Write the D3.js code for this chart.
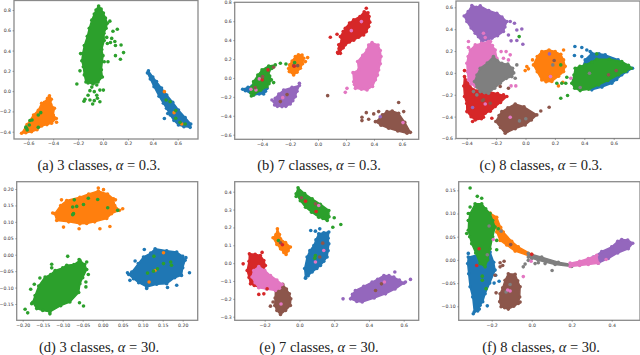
<!DOCTYPE html>
<html>
<head>
<meta charset="utf-8">
<script src="https://cdn.jsdelivr.net/npm/d3@7"></script>
<style>
  html, body { margin: 0; padding: 0; background: #fff; }
  svg { display: block; }
  .tick text { font-family: "DejaVu Sans", sans-serif; font-size: 4.6px; fill: #333; }
  .tick line { stroke: #555; stroke-width: 0.5; }
  .frame { fill: none; stroke: #8a8a8a; stroke-width: 1.3; }
  .caption { font-family: "Liberation Serif", serif; font-size: 14.5px; fill: #222; text-anchor: middle; }
</style>
</head>
<body>
<svg id="chart" width="640" height="355"></svg>
<script>
// tab10, index = class number used in the stray arrays
var classColors = ['#1f77b4', '#ff7f0e', '#2ca02c', '#d62728', '#9467bd', '#8c564b', '#e377c2', '#7f7f7f'];

// ---- (a) 3 classes, alpha 0.3
var aXTicks = [-0.6, -0.4, -0.2, 0, 0.2, 0.4, 0.6];
var aYTicks = [-0.4, -0.2, 0, 0.2, 0.4, 0.6, 0.8];
var aBlue = [[.365,.2],[.4,.14],[.43,.094],[.47,.03],[.512,-.038],[.56,-.11],[.606,-.186],[.66,-.26],[.705,-.324],[.7,-.357],[.65,-.35],[.606,-.334],[.57,-.29],[.54,-.235],[.51,-.17],[.485,-.12],[.45,-.05],[.41,.044],[.38,.12],[.357,.18]];
var aOrange = [[-.654,-.416],[-.61,-.33],[-.558,-.235],[-.52,-.19],[-.493,-.12],[-.47,-.11],[-.445,-.07],[-.43,-.045],[-.415,-.08],[-.42,-.13],[-.39,-.17],[-.4,-.235],[-.375,-.27],[-.413,-.317],[-.45,-.33],[-.493,-.344],[-.53,-.38],[-.574,-.4],[-.62,-.41]];
var aGreen = [[-.035,.84],[-.015,.81],[.003,.77],[.02,.72],[.035,.67],[.025,.62],[.008,.57],[.01,.5],[-.01,.41],[0,.35],[-.013,.21],[-.005,.14],[-.04,.09],[-.08,.07],[-.137,.09],[-.15,.16],[-.158,.24],[-.17,.3],[-.163,.37],[-.15,.45],[-.126,.54],[-.11,.62],[-.09,.7],[-.07,.76],[-.056,.8]];
var aStray = [[.493,-.27,0],[.52,-.22,0],[-.373,-.307,1],[-.386,-.268,1],[-.4,-.24,1],
  [-.21,.07,2],[-.18,.37,2],[-.185,.2,2],[.055,.69,2],[.115,.61,2],[.08,.59,2],[.03,.53,2],[.07,.52,2],[.095,.49,2],[.06,.48,2],[.145,.455,2],[.1,.45,2],[.165,.38,2],[.1,.35,2],[.14,.315,2],[.035,.47,2],[.01,.29,2],[.04,.29,2],[-.12,.08,2],[-.09,.04,2],[-.05,.06,2],[.003,.01,2],[-.025,.01,2],[-.05,-.04,2],[-.12,-.04,2],[-.145,-.08,2],[-.153,-.1,2],[-.105,-.087,2],[-.083,-.127,2],[-.045,-.07,2],[-.025,-.104,2],[-.07,-.094,2],[-.105,.005,2],[-.07,-.005,2],
  [-.587,-.29,2],[-.57,-.285,2],[-.592,-.334,2],[-.614,-.367,2],[-.62,-.355,2],[-.609,-.383,2],[-.52,-.357,2],[-.52,-.235,2],[-.5,-.212,2],
  [.493,-.005,1],[.571,-.212,1],[.633,-.324,1],
  [.507,-.087,2],[.539,-.104,2],[.584,-.192,2],[.584,-.268,2],[.619,-.308,2],[.66,-.324,2]];

// ---- (b) 7 classes, alpha 0.3
var bXTicks = [-0.4, -0.2, 0, 0.2, 0.4, 0.6];
var bYTicks = [-0.6, -0.4, -0.2, 0, 0.2, 0.4, 0.6, 0.8];
var bBlue = [[-.538,-.12],[-.5,-.1],[-.471,-.085],[-.42,-.1],[-.364,-.11],[-.375,-.14],[-.388,-.17],[-.42,-.17],[-.46,-.18],[-.519,-.134]];
var bOrange = [[-.114,.243],[-.102,.208],[-.11,.15],[-.126,.102],[-.15,.06],[-.174,.032],[-.205,.067],[-.21,.1],[-.202,.138],[-.185,.18],[-.162,.226],[-.14,.245]];
var bGreen = [[-.305,.138],[-.33,.1],[-.352,.067],[-.345,.02],[-.333,-.02],[-.35,-.06],[-.364,-.092],[-.41,-.13],[-.46,-.18],[-.48,-.16],[-.475,-.1],[-.46,-.039],[-.43,.03],[-.4,.085],[-.352,.127]];
var bRed = [[.33,.7],[.357,.69],[.365,.65],[.37,.59],[.362,.543],[.345,.49],[.326,.455],[.29,.43],[.255,.4],[.225,.38],[.195,.35],[.18,.32],[.16,.296],[.16,.26],[.143,.26],[.15,.31],[.148,.35],[.17,.39],[.16,.437],[.18,.49],[.195,.525],[.225,.58],[.255,.614],[.3,.65]];
var bPurple = [[-.133,-.08],[-.15,-.14],[-.162,-.197],[-.18,-.24],[-.198,-.275],[-.23,-.3],[-.257,-.303],[-.29,-.3],[-.31,-.286],[-.315,-.25],[-.305,-.215],[-.28,-.17],[-.245,-.127],[-.186,-.1]];
var bBrown = [[.493,-.356],[.53,-.35],[.576,-.374],[.62,-.47],[.66,-.575],[.636,-.585],[.57,-.56],[.505,-.532],[.45,-.5],[.41,-.462],[.445,-.427],[.46,-.39]];
var bPink = [[.386,.374],[.429,.349],[.445,.29],[.45,.226],[.445,.15],[.433,.085],[.425,.03],[.41,-.02],[.39,-.09],[.35,-.127],[.31,-.12],[.267,-.11],[.26,-.07],[.255,-.04],[.25,.056],[.29,.085],[.283,.173],[.32,.24],[.35,.296],[.362,.349]];
var bStray = [[.345,.737,3],[.088,.43,3],[.136,.462,3],[.148,.268,3],[.14,.27,3],[.171,.314,3],
  [.238,.5,6],[.31,.596,6],[.207,-.11,6],[.195,-.152,6],[.362,.32,6],
  [.069,-.187,5],[.576,-.26,5],[.345,-.367,5],[.398,-.38,5],[.314,-.416,5],[.314,-.451,5],[.362,-.437,5],[.433,-.356,5],[.612,-.356,5],
  [.607,-.472,6],[.445,-.41,4],
  [-.133,-.056,4],[-.329,-.233,4],[-.221,-.176,5],[-.269,-.25,5],[-.252,-.208,6],
  [-.074,.215,1],[-.09,.173,1],[-.174,.13,5],[-.145,.13,5],[-.167,.162,2],[-.17,.125,3],
  [-.269,.155,2],[-.229,.148,2],[-.317,-.049,2],[-.476,-.19,2],
  [-.479,-.12,6],[-.419,-.01,6],[-.443,-.127,6],[-.357,.085,3],[-.398,-.02,3],[-.317,.113,5],[-.448,-.102,5],[-.395,.014,5]];

// ---- (c) 8 classes, alpha 0.3
var cXTicks = [-0.4, -0.2, 0, 0.2, 0.4, 0.6];
var cYTicks = [-0.6, -0.4, -0.2, 0, 0.2, 0.4, 0.6];
var cBlue = [[.451,.18],[.5,.175],[.542,.165],[.63,.12],[.728,.043],[.69,.01],[.655,-.018],[.62,-.06],[.587,-.095],[.52,-.13],[.451,-.155],[.41,-.06],[.383,.027],[.406,.119]];
var cOrange = [[.111,.195],[.16,.21],[.202,.195],[.24,.17],[.259,.119],[.27,.06],[.259,.012],[.225,-.03],[.179,-.079],[.14,-.08],[.111,-.064],[.08,.01],[.054,.073],[.08,.15]];
var cGreen = [[.485,.125],[.57,.125],[.655,.104],[.7,.07],[.719,.043],[.68,.015],[.633,-.018],[.56,-.07],[.497,-.11],[.43,-.15],[.372,-.162],[.335,-.14],[.315,-.095],[.33,-.02],[.338,.043],[.37,.06],[.406,.073],[.45,.1]];
var cRed = [[-.415,-.034],[-.38,-.11],[-.354,-.155],[-.3,-.16],[-.252,-.171],[-.19,-.19],[-.127,-.216],[-.17,-.27],[-.206,-.308],[-.24,-.35],[-.274,-.369],[-.3,-.42],[-.342,-.43],[-.37,-.4],[-.399,-.354],[-.4,-.28],[-.415,-.216],[-.42,-.12]];
var cPurple = [[-.365,.616],[-.335,.6],[-.308,.613],[-.25,.57],[-.195,.546],[-.16,.51],[-.127,.47],[-.14,.42],[-.15,.378],[-.19,.34],[-.229,.317],[-.26,.3],[-.297,.287],[-.32,.33],[-.342,.363],[-.37,.41],[-.399,.47],[-.417,.521],[-.39,.56]];
var cBrown = [[-.07,-.284],[-.01,-.31],[.077,-.384],[.04,-.43],[-.002,-.476],[-.07,-.51],[-.138,-.552],[-.17,-.5],[-.202,-.445],[-.18,-.39],[-.161,-.354],[-.12,-.32]];
var cPink = [[-.342,.256],[-.3,.27],[-.252,.287],[-.225,.25],[-.206,.21],[-.195,.134],[-.24,.08],[-.297,.027],[-.32,-.05],[-.342,-.125],[-.37,-.1],[-.388,-.064],[-.395,.01],[-.399,.088],[-.39,.15],[-.376,.21]];
var cGray = [[-.218,.149],[-.19,.11],[-.161,.088],[-.12,.08],[-.088,.043],[-.08,0],[-.093,-.034],[-.13,-.05],[-.172,-.095],[-.21,-.14],[-.252,-.186],[-.28,-.18],[-.308,-.171],[-.33,-.13],[-.347,-.079],[-.33,-.02],[-.308,.043],[-.26,.09]];
var cStray = [[-.104,.47,4],[-.075,.454,4],[-.025,.402,4],[-.059,.393,4],[-.098,.293,4],[-.059,.296,4],[-.018,.262,4],[-.116,.346,4],
  [-.043,.332,2],[-.286,.363,6],[-.274,.323,6],[-.388,.287,6],[-.238,.287,6],
  [-.166,.195,6],[-.132,.195,6],[-.104,.165,6],[-.15,.134,6],[-.116,.119,6],[-.388,.232,6],[-.098,-.119,6],[-.066,-.119,6],
  [-.059,.073,7],[-.07,-.049,7],
  [-.415,.021,3],[-.229,-.415,3],[-.286,-.405,3],[-.36,-.445,3],[-.15,-.2,3],
  [.161,-.314,5],[.104,-.348,5],[-.172,-.125,5],[-.116,-.14,5],[-.286,-.247,5],[-.24,-.277,5],
  [-.104,-.405,6],[-.274,-.284,6],[-.041,-.439,7],[.002,-.42,7],[-.331,-.201,7],[-.354,-.171,7],[-.36,-.317,4],[-.293,-.253,5],
  [.009,.058,1],[.02,.037,1],[-.002,.021,1],[.048,.119,1],[.224,-.119,1],[.254,-.085,1],[.259,.21,1],
  [.163,.174,4],[.195,.113,5],[.186,.073,7],[.17,-.034,6],[.24,.073,2],
  [.336,.241,0],[.383,.232,0],[.417,.21,0],[.383,.149,0],[.333,.159,0],[.44,.195,0],
  [.24,-.232,2],[.286,-.207,2],[.274,-.095,2],[.247,-.095,2],[.213,-.095,2],[.281,-.04,2],[.485,.174,2],
  [.308,-.049,6],[.372,-.134,7],[.435,-.003,7],[.565,-.018,5],[.617,.021,5]];

// ---- (d) 3 classes, alpha 30
var dXTicks = [-0.2, -0.15, -0.1, -0.05, 0, 0.05, 0.1, 0.15, 0.2];
var dYTicks = [-0.15, -0.1, -0.05, 0, 0.05, 0.1, 0.15, 0.2];
var dBlue = [[.102,-.007],[.12,.005],[.131,.018],[.16,.012],[.185,.008],[.2,-.005],[.206,-.017],[.2,-.04],[.197,-.063],[.18,-.07],[.16,-.088],[.135,-.09],[.11,-.098],[.09,-.085],[.077,-.073],[.065,-.06],[.0725,-.053],[.089,-.027]];
var dOrange = [[-.12,.125],[-.105,.15],[-.09,.165],[-.057,.175],[-.035,.185],[-.011,.194],[.012,.185],[.027,.17],[.03,.15],[.042,.135],[.022,.125],[.01,.11],[-.02,.1],[-.04,.095],[-.057,.094],[-.085,.1],[-.115,.104]];
var dGreen = [[-.09,-.032],[-.072,-.03],[-.057,-.017],[-.045,-.03],[-.04,-.045],[-.05,-.07],[-.057,-.088],[-.06,-.115],[-.082,-.144],[-.105,-.155],[-.132,-.174],[-.15,-.17],[-.165,-.164],[-.175,-.145],[-.169,-.124],[-.16,-.095],[-.144,-.068],[-.13,-.06],[-.119,-.048],[-.1,-.04]];
var dStray = [[-.011,.203,1],[.002,.198,1],[-.098,.084,1],[-.059,.079,1],[-.007,.079,1],[.018,.086,1],[-.125,.127,1],[.05,.14,1],[-.103,.167,1],[.032,.167,1],
  [-.071,.167,2],[-.036,.172,2],[-.0125,.168,2],[-.075,.145,2],[-.065,.147,2],[-.048,.153,2],[-.073,.125,2],[-.075,.122,2],[.0125,.143,2],[.0375,.135,2],
  [.104,.016,0],[.081,-.019,0],[.062,-.055,0],[.217,-.055,0],[.162,-.1,0],[.11,-.103,0],[.208,-.009,0],[.068,-.078,0],[.185,-.093,0],
  [.152,.006,1],[.131,-.048,1],[.116,-.083,1],
  [.128,-.005,2],[.152,-.027,2],[.17,-.022,2],[.172,-.032,2],[.137,-.043,2],[.127,-.05,2],[.112,-.056,2],
  [-.0875,-.005,2],[-.059,-.015,2],[-.04,-.022,2],[-.036,-.06,2],[-.042,-.098,2],[-.042,-.083,2],[-.058,-.146,2],[-.048,-.156,2],[-.194,-.166,2],[-.1875,-.177,2],[-.1775,-.149,2],[-.171,-.09,2],[-.18,-.105,2],[-.132,-.18,2],[-.1275,-.029,2],[-.1275,-.04,2],[-.157,-.071,2]];

// ---- (e) 7 classes, alpha 30
var eXTicks = [-0.2, 0, 0.2, 0.4, 0.6];
var eYTicks = [-0.3, -0.2, -0.1, 0, 0.1, 0.2, 0.3, 0.4];
var eBlue = [[.111,.164],[.14,.17],[.169,.174],[.165,.14],[.169,.108],[.165,.07],[.159,.034],[.14,.01],[.121,-.013],[.1,-.03],[.073,-.05],[.05,-.07],[.035,-.082],[.03,-.03],[.044,.034],[.06,.07],[.083,.099],[.095,.13]];
var eOrange = [[-.127,.192],[-.115,.16],[-.109,.136],[-.08,.115],[-.052,.09],[-.065,.07],[-.077,.049],[-.09,.06],[-.109,.08],[-.13,.105],[-.152,.142],[-.135,.16]];
var eGreen = [[-.008,.422],[.03,.39],[.073,.36],[.12,.33],[.169,.295],[.17,.26],[.16,.239],[.135,.25],[.111,.257],[.07,.285],[.035,.313],[.005,.35],[-.019,.388]];
var eRed = [[-.288,.052],[-.255,.05],[-.225,.043],[-.205,.015],[-.196,-.013],[-.22,-.07],[-.234,-.134],[-.26,-.125],[-.282,-.116],[-.29,-.08],[-.301,-.041],[-.29,.01]];
var ePurple = [[.486,-.069],[.515,-.07],[.543,-.078],[.575,-.095],[.601,-.112],[.55,-.145],[.495,-.172],[.43,-.195],[.361,-.218],[.33,-.215],[.294,-.2],[.305,-.175],[.322,-.153],[.37,-.13],[.418,-.106],[.45,-.09]];
var eBrown = [[-.096,-.119],[-.075,-.145],[-.058,-.172],[-.05,-.2],[-.052,-.237],[-.08,-.265],[-.109,-.287],[-.13,-.265],[-.142,-.237],[-.14,-.195],[-.138,-.153],[-.115,-.13]];
var ePink = [[-.234,-.019],[-.2,-.04],[-.167,-.069],[-.13,-.095],[-.1,-.119],[-.115,-.14],[-.138,-.153],[-.19,-.145],[-.234,-.138],[-.255,-.11],[-.273,-.078],[-.263,-.041]];
var eStray = [[.2,.254,2],[.192,.201,2],[.238,.216,2],[-.019,.373,2],
  [.012,.366,5],[.092,.332,5],[.035,.347,3],[.096,.289,3],[.111,.323,6],
  [.065,.183,0],[.092,.179,0],[.117,.192,0],[.035,-.084,0],
  [.134,.112,5],[.117,.034,5],[.14,.071,6],[.092,.006,6],[.092,.043,2],[.088,.028,2],
  [-.121,.127,2],[-.109,.114,5],[-.098,.103,3],
  [-.324,-.004,3],[-.215,.06,3],[-.205,-.172,3],[-.234,-.175,3],[-.186,-.144,3],
  [-.167,-.241,5],[-.152,-.218,5],[-.106,-.229,6],
  [.549,-.05,4],[.639,-.091,4],[.251,-.2,4],[.61,-.106,4],[.472,-.116,5],[.438,-.153,5],[.489,-.106,6]];

// ---- (f) 8 classes, alpha 30
var fXTicks = [-0.2, 0, 0.2, 0.4];
var fYTicks = [-0.1, -0.05, 0, 0.05, 0.1, 0.15];
var fBlue = [[-.317,.006],[-.26,.012],[-.208,.017],[-.19,-.005],[-.183,-.022],[-.21,-.05],[-.233,-.073],[-.245,-.09],[-.258,-.098],[-.27,-.11],[-.287,-.112],[-.295,-.08],[-.308,-.058],[-.315,-.03],[-.32,-.008]];
var fOrange = [[-.208,.101],[-.175,.092],[-.155,.07],[-.142,.06],[-.1,.04],[-.067,.028],[0,.012],[-.008,.008],[-.083,.019],[-.125,.032],[-.158,.042],[-.175,.06],[-.185,.08],[-.192,.089]];
var fGreen = [[-.283,.121],[-.25,.121],[-.23,.11],[-.208,.1],[-.195,.085],[-.183,.071],[-.195,.05],[-.208,.024],[-.22,0],[-.233,-.015],[-.258,-.008],[-.28,.015],[-.3,.035],[-.31,.05],[-.317,.064],[-.315,.085],[-.308,.1]];
var fPurple = [[.308,.006],[.35,.018],[.4,.028],[.43,.04],[.45,.044],[.48,.043],[.505,.036],[.483,.024],[.43,.015],[.383,.003],[.333,-.007]];
var fBrown = [[-.117,-.03],[-.083,-.031],[-.07,-.045],[-.058,-.058],[-.06,-.08],[-.067,-.094],[-.09,-.1],[-.117,-.106],[-.135,-.103],[-.153,-.101],[-.16,-.09],[-.158,-.073],[-.145,-.06],[-.133,-.044]];
var fPink = [[.192,-.007],[.24,-.003],[.283,.003],[.325,.01],[.333,-.007],[.283,-.01],[.24,-.012],[.192,-.014]];
var fGray = [[-.017,.014],[.05,.006],[.133,-.005],[.2,-.01],[.2,-.014],[.117,-.01],[.033,-.001],[-.017,.006]];
var fStray = [[-.292,-.116,0],[-.222,-.099,0],[-.262,-.106,0],[-.163,-.046,0],[-.188,-.05,0],[-.18,-.033,0],[-.317,.014,0],
  [-.308,.155,2],[-.272,.137,2],[-.25,.133,2],[-.325,.057,2],[-.175,.022,2],[-.167,.067,2],[-.175,.042,2],[-.247,-.035,2],[-.247,-.044,2],[-.228,-.062,2],[-.317,.1,2],[-.317,.085,2],[-.308,.114,2],
  [-.033,-.009,7],[-.017,-.001,7],[-.042,-.015,7],[.017,-.008,7],[.033,-.006,7],[.067,-.008,7],[.102,-.023,7],[0,.003,7],
  [-.213,.073,7],[-.153,.062,7],[-.222,.011,7],[-.108,-.053,7],[-.128,-.069,7],
  [-.138,-.003,5],[-.158,-.006,5],[-.158,-.015,5],[-.145,-.012,5],[-.178,-.071,5],[-.058,-.091,5],[-.183,-.033,5],
  [-.042,-.036,6],[-.108,-.067,6],[-.12,-.065,6],[-.192,.044,6],[-.003,-.003,6],[.372,.001,6],
  [-.263,.024,3],[-.275,-.012,3],[-.105,.033,5],[0,.012,3]];

// pixel layout of each panel: frame box, plus where the first/last tick sits
var panels = [
  {label: '(a) 3 classes, ', val: '0.3.', box: [14, 198, 0.5, 139], xPx: [28.3, 177.7], yPx: [131.7, 10], xt: aXTicks, yt: aYTicks, xf: '.1f', yf: '.1f', cx: 99, by: 170,
   hulls: [[aBlue, 0], [aOrange, 1], [aGreen, 2]], stray: aStray},
  {label: '(b) 7 classes, ', val: '0.3.', box: [234.7, 418.7, 2.3, 139.3], xPx: [262, 402], yPx: [134.7, 2.3], xt: bXTicks, yt: bYTicks, xf: '.1f', yf: '.1f', cx: 319, by: 170,
   hulls: [[bBlue, 0], [bOrange, 1], [bGreen, 2], [bRed, 3], [bPurple, 4], [bBrown, 5], [bPink, 6]], stray: bStray},
  {label: '(c) 8 classes, ', val: '0.3.', box: [456, 640, 1, 138.5], xPx: [466.7, 613.7], yPx: [138.5, 7.3], xt: cXTicks, yt: cYTicks, xf: '.1f', yf: '.1f', cx: 541, by: 170,
   hulls: [[cBlue, 0], [cOrange, 1], [cGreen, 2], [cRed, 3], [cPurple, 4], [cBrown, 5], [cPink, 6], [cGray, 7]], stray: cStray},
  {label: '(d) 3 classes, ', val: '30.', box: [16.7, 197.7, 181.7, 320.3], xPx: [22.7, 182.7], yPx: [304, 189], xt: dXTicks, yt: dYTicks, xf: '.2f', yf: '.2f', cx: 99, by: 352,
   hulls: [[dBlue, 0], [dOrange, 1], [dGreen, 2]], stray: dStray},
  {label: '(e) 7 classes, ', val: '30.', box: [234.7, 418.7, 181.7, 320.3], xPx: [264.7, 403.7], yPx: [316.7, 191.7], xt: eXTicks, yt: eYTicks, xf: '.1f', yf: '.1f', cx: 319, by: 352,
   hulls: [[eBlue, 0], [eOrange, 1], [eGreen, 2], [eRed, 3], [ePurple, 4], [eBrown, 5], [ePink, 6]], stray: eStray},
  {label: '(f) 8 classes, ', val: '30.', box: [458.7, 640, 181.7, 320.3], xPx: [491.7, 611.7], yPx: [306.3, 190.3], xt: fXTicks, yt: fYTicks, xf: '.1f', yf: '.2f', cx: 541, by: 352,
   hulls: [[fBlue, 0], [fOrange, 1], [fGreen, 2], [fPurple, 4], [fBrown, 5], [fGray, 7], [fPink, 6]], stray: fStray}
];

var svg = d3.select('#chart');
var dotR = 1.8;

panels.forEach(function(p) {
  var g = svg.append('g');
  var x = d3.scaleLinear().domain([p.xt[0], p.xt[p.xt.length - 1]]).range(p.xPx);
  var y = d3.scaleLinear().domain([p.yt[0], p.yt[p.yt.length - 1]]).range(p.yPx);

  var outline = d3.line()
    .x(function(d) { return x(d[0]); })
    .y(function(d) { return y(d[1]); })
    .curve(d3.curveLinearClosed);

  // dense part of each class: filled outline with a dot on every outline point
  p.hulls.forEach(function(h) {
    var c = classColors[h[1]];
    var cl = g.append('g');
    cl.append('path')
      .attr('d', outline(h[0]))
      .attr('fill', c)
      .attr('stroke', c)
      .attr('stroke-width', 1.5)
      .attr('stroke-linejoin', 'round');
    cl.selectAll('circle').data(h[0]).enter().append('circle')
      .attr('cx', function(d) { return x(d[0]); })
      .attr('cy', function(d) { return y(d[1]); })
      .attr('r', dotR)
      .attr('fill', c);
  });

  g.selectAll('circle.stray').data(p.stray).enter().append('circle')
    .attr('class', 'stray')
    .attr('cx', function(d) { return x(d[0]); })
    .attr('cy', function(d) { return y(d[1]); })
    .attr('r', dotR)
    .attr('fill', function(d) { return classColors[d[2]]; });

  g.append('rect').attr('class', 'frame')
    .attr('x', p.box[0]).attr('y', p.box[2])
    .attr('width', p.box[1] - p.box[0]).attr('height', p.box[3] - p.box[2]);

  g.append('g').attr('transform', 'translate(0,' + p.box[3] + ')')
    .call(d3.axisBottom(x).tickValues(p.xt).tickFormat(d3.format(p.xf)).tickSize(1.5).tickPadding(1.5))
    .call(function(a) { a.select('.domain').remove(); });

  g.append('g').attr('transform', 'translate(' + p.box[0] + ',0)')
    .call(d3.axisLeft(y).tickValues(p.yt).tickFormat(d3.format(p.yf)).tickSize(1.5).tickPadding(1.5))
    .call(function(a) { a.select('.domain').remove(); });

  // caption, alpha in italics like the paper
  var cap = svg.append('text').attr('class', 'caption').attr('x', p.cx).attr('y', p.by);
  cap.append('tspan').text(p.label);
  cap.append('tspan').attr('font-style', 'italic').text('α');
  cap.append('tspan').text(' = ' + p.val);
});
</script>
</body>
</html>
